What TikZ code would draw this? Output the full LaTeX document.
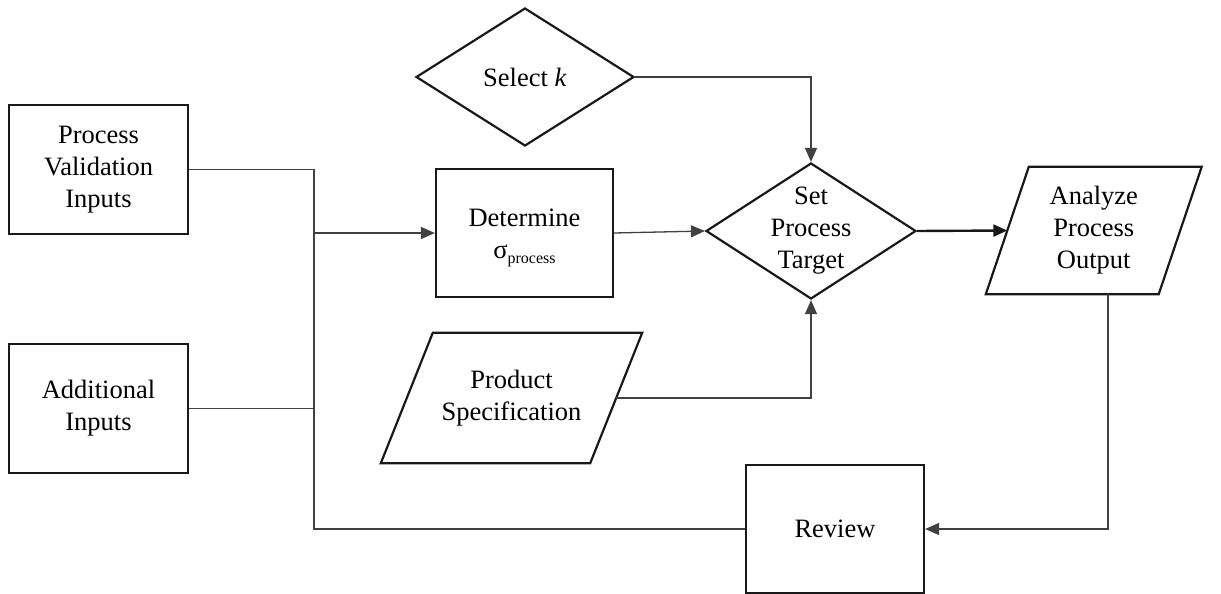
\documentclass[tikz,border=0pt]{standalone}
\usepackage{fontspec}
\setmainfont{Liberation Serif}
\usetikzlibrary{shapes.geometric,arrows.meta,calc}
\begin{document}
\begin{tikzpicture}[x=1pt,y=-1pt,
  txt/.style={font=\fontsize{26.5}{32}\selectfont, align=center},
  shapeline/.style={draw=black!90, line width=2.2pt, line join=miter},
  boxnode/.style={txt, shapeline, rectangle, inner sep=0pt},
  dia/.style={txt, shapeline, diamond, inner sep=0pt},
  paratext/.style={txt, rectangle, inner sep=0pt},
  conn/.style={draw=black!75, line width=1.3pt},
  arr/.style={conn, -{Triangle[length=14pt,width=12pt]}},
  thickarr/.style={draw=black!90, line width=2.4pt, -{Triangle[length=14pt,width=12pt]}}
]
\useasboundingbox (0,0) rectangle (1221,594);

\node[boxnode, minimum width=179, minimum height=129] (pvi) at (98.5,169.5) {Process\\Validation\\Inputs};
\node[boxnode, minimum width=179, minimum height=129] (ai) at (98.5,408.5) {Additional\\Inputs};
\node[boxnode, minimum width=177, minimum height=128] (det) at (524.5,233) {\rule{0pt}{28pt}Determine\\σ\raisebox{-5pt}{\fontsize{16}{16}\selectfont process}};
\node[boxnode, minimum width=178, minimum height=128] (rev) at (835,529) {Review};

\node[dia, minimum width=218, minimum height=138] (sel) at (525,77) {Select \textit{k}};
\node[dia, minimum width=210, minimum height=136,
  label={[txt, name=sptt]center:{Set\\Process\\Target}}] (spt) at (811,231) {};

% parallelograms: text node sized to the mid-side width, outline drawn around it
\node[paratext, minimum width=172.5, minimum height=127] (apo) at (1093.75,230.5) {Analyze\\Process\\Output};
\draw[shapeline] ($(apo.south west)+(-21.5,0)$) -- ($(apo.north west)+(21.5,0)$) -- ($(apo.north east)+(21.5,0)$) -- ($(apo.south east)+(-21.5,0)$) -- cycle;
\node[paratext, minimum width=209, minimum height=130] (ps) at (511.5,398) {Product\\Specification};
\draw[shapeline] ($(ps.south west)+(-26,0)$) -- ($(ps.north west)+(26,0)$) -- ($(ps.north east)+(26,0)$) -- ($(ps.south east)+(-26,0)$) -- cycle;

\coordinate (j) at (314,233);

\draw[conn] (pvi.east) -| (j);
\draw[conn] (ai.east) -- (ai.east -| j);
\draw[conn] (rev.west) -| (j);
\draw[arr] (j) -- (det.west);
\draw[arr] (det.east) -- (spt.west);
\draw[arr] (sel.east) -| (spt.north);
\draw[arr] (ps.east) -| (spt.south);
\draw[thickarr] (spt.east) -- (apo.west);
\draw[arr] ($(apo.south)+(14.25,0)$) |- (rev.east);
\end{tikzpicture}
\end{document}
